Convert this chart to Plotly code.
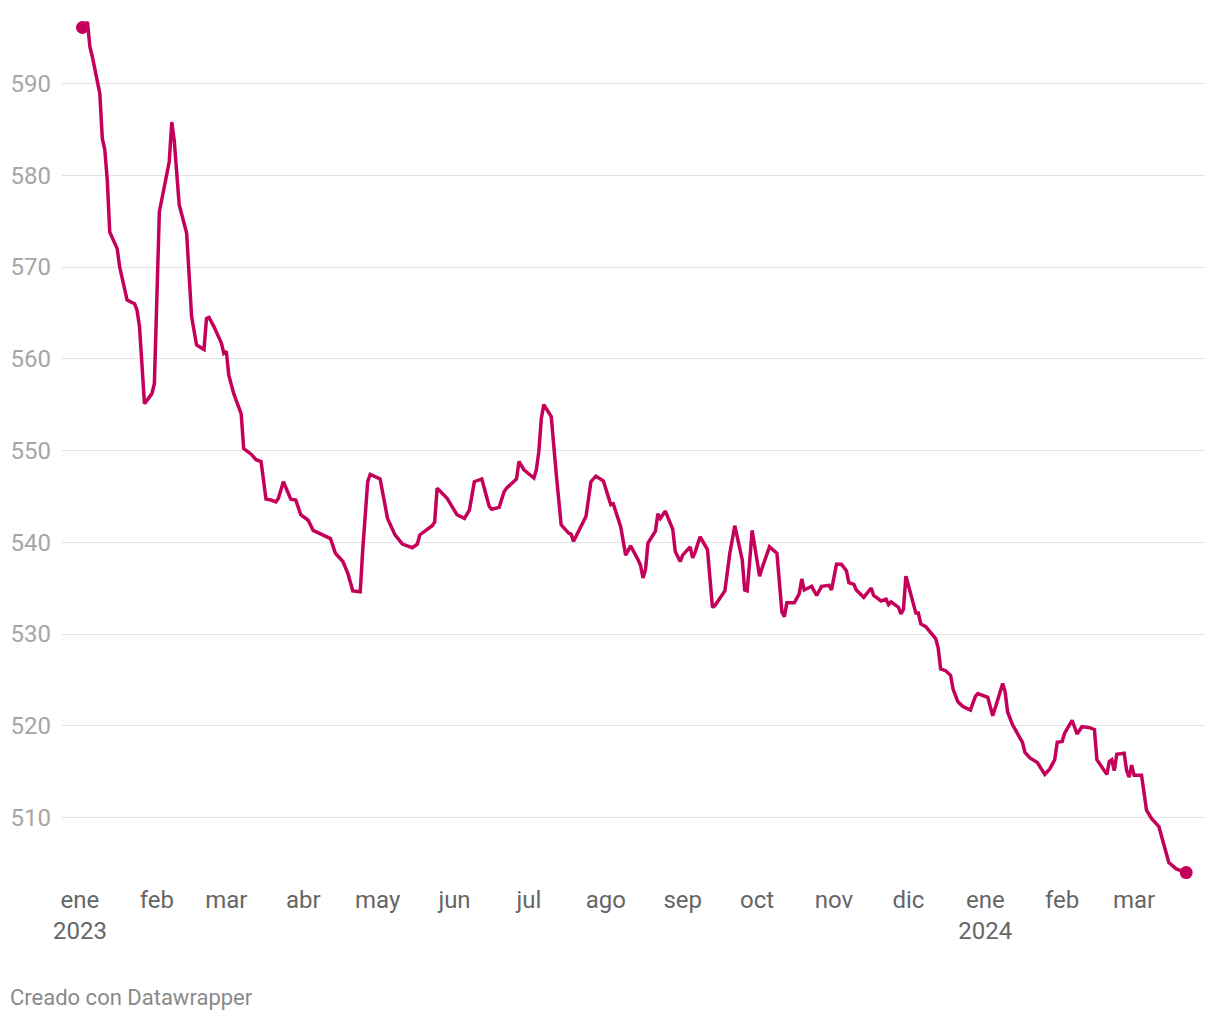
import plotly.graph_objects as go

dates = [
    "2023-01-02", "2023-01-03", "2023-01-04", "2023-01-05", "2023-01-06", "2023-01-09", "2023-01-10",
    "2023-01-11", "2023-01-12", "2023-01-13", "2023-01-16", "2023-01-17", "2023-01-20", "2023-01-23",
    "2023-01-24", "2023-01-25", "2023-01-27", "2023-01-30", "2023-01-31",
    "2023-02-01", "2023-02-02", "2023-02-06", "2023-02-07", "2023-02-08", "2023-02-10", "2023-02-13",
    "2023-02-15", "2023-02-17", "2023-02-20", "2023-02-21", "2023-02-22", "2023-02-24", "2023-02-27",
    "2023-02-28",
    "2023-03-01", "2023-03-02", "2023-03-04", "2023-03-07", "2023-03-08", "2023-03-11", "2023-03-13",
    "2023-03-15", "2023-03-17", "2023-03-19", "2023-03-21", "2023-03-22", "2023-03-24", "2023-03-27",
    "2023-03-29", "2023-03-31",
    "2023-04-03", "2023-04-05", "2023-04-09", "2023-04-12", "2023-04-14", "2023-04-17", "2023-04-19",
    "2023-04-21", "2023-04-24", "2023-04-25", "2023-04-27", "2023-04-28",
    "2023-05-02", "2023-05-04", "2023-05-05", "2023-05-08", "2023-05-11", "2023-05-15", "2023-05-17",
    "2023-05-18", "2023-05-21", "2023-05-23", "2023-05-24", "2023-05-25", "2023-05-29",
    "2023-06-02", "2023-06-05", "2023-06-07", "2023-06-09", "2023-06-12", "2023-06-15", "2023-06-16",
    "2023-06-19", "2023-06-21", "2023-06-22", "2023-06-26", "2023-06-27", "2023-06-29",
    "2023-07-03", "2023-07-04", "2023-07-05", "2023-07-06", "2023-07-07", "2023-07-10", "2023-07-12",
    "2023-07-14", "2023-07-17", "2023-07-18", "2023-07-19", "2023-07-21", "2023-07-24", "2023-07-26",
    "2023-07-28", "2023-07-31",
    "2023-08-03", "2023-08-04", "2023-08-07", "2023-08-09", "2023-08-11", "2023-08-14", "2023-08-15",
    "2023-08-16", "2023-08-17", "2023-08-18", "2023-08-21", "2023-08-22", "2023-08-23", "2023-08-25",
    "2023-08-28", "2023-08-29", "2023-08-31",
    "2023-09-01", "2023-09-04", "2023-09-05", "2023-09-06", "2023-09-08", "2023-09-11", "2023-09-13",
    "2023-09-14", "2023-09-18", "2023-09-20", "2023-09-22", "2023-09-25", "2023-09-26", "2023-09-27",
    "2023-09-28", "2023-09-29",
    "2023-10-02", "2023-10-03", "2023-10-06", "2023-10-09", "2023-10-11", "2023-10-12", "2023-10-13",
    "2023-10-16", "2023-10-18", "2023-10-19", "2023-10-20", "2023-10-23", "2023-10-25", "2023-10-27",
    "2023-10-30", "2023-10-31",
    "2023-11-02", "2023-11-04", "2023-11-06", "2023-11-07", "2023-11-09", "2023-11-10", "2023-11-13",
    "2023-11-16", "2023-11-17", "2023-11-20", "2023-11-22", "2023-11-23", "2023-11-24", "2023-11-27",
    "2023-11-28", "2023-11-29", "2023-11-30",
    "2023-12-04", "2023-12-05", "2023-12-06", "2023-12-08", "2023-12-10", "2023-12-12", "2023-12-13",
    "2023-12-14", "2023-12-16", "2023-12-18", "2023-12-19", "2023-12-21", "2023-12-23", "2023-12-26",
    "2023-12-28", "2023-12-29",
    "2024-01-02", "2024-01-04", "2024-01-06", "2024-01-08", "2024-01-09", "2024-01-10", "2024-01-12",
    "2024-01-15", "2024-01-16", "2024-01-17", "2024-01-19", "2024-01-22", "2024-01-23", "2024-01-25",
    "2024-01-27", "2024-01-29", "2024-01-30",
    "2024-02-01", "2024-02-02", "2024-02-05", "2024-02-07", "2024-02-09", "2024-02-12", "2024-02-14",
    "2024-02-15", "2024-02-19", "2024-02-20", "2024-02-21", "2024-02-22", "2024-02-23", "2024-02-26",
    "2024-02-27", "2024-02-28", "2024-02-29",
    "2024-03-01", "2024-03-04", "2024-03-06", "2024-03-08", "2024-03-11", "2024-03-15", "2024-03-18",
    "2024-03-22",
]

values = [
    596.1, 596.3, 596.7, 594.0, 592.9, 588.9, 584.0,
    582.8, 579.5, 573.8, 572.0, 570.0, 566.4, 566.0,
    565.3, 563.5, 555.1, 556.2, 557.3,
    565.3, 576.0, 581.5, 585.8, 583.8, 576.8, 573.7,
    564.6, 561.5, 561.0, 564.4, 564.5, 563.5, 561.7,
    560.6,
    560.8, 558.2, 556.2, 554.0, 550.2, 549.6, 549.0,
    548.8, 544.7, 544.6, 544.4, 544.8, 546.6, 544.7,
    544.6, 543.0,
    542.4, 541.3, 540.8, 540.4, 538.8, 537.9, 536.6,
    534.7, 534.6, 539.2, 546.6, 547.4,
    546.9, 543.9, 542.6, 540.8, 539.8, 539.4, 539.8,
    540.8, 541.4, 541.8, 542.2, 545.9, 544.8,
    543.0, 542.6, 543.5, 546.6, 546.9, 543.9, 543.6,
    543.8, 545.5, 545.9, 546.9, 548.8, 547.9,
    547.0, 547.9, 549.9, 553.5, 555.0, 553.7, 547.5,
    541.9, 541.0, 540.9, 540.1, 541.2, 542.8, 546.6,
    547.2, 546.7,
    544.1, 544.2, 541.7, 538.6, 539.6, 538.1, 537.5,
    536.1, 537.0, 539.9, 541.2, 543.1, 542.6, 543.4,
    541.4, 539.0, 537.9,
    538.6, 539.5, 538.3, 538.9, 540.6, 539.2, 532.9,
    533.1, 534.7, 538.8, 541.8, 538.1, 534.8, 534.7,
    537.9, 541.3,
    536.3, 537.2, 539.5, 538.8, 532.4, 531.9, 533.4,
    533.4, 534.4, 536.0, 534.8, 535.2, 534.2, 535.2,
    535.3, 534.8,
    537.6, 537.6, 536.9, 535.6, 535.4, 534.8, 534.0,
    535.0, 534.2, 533.6, 533.8, 533.2, 533.5, 532.9,
    532.2, 532.7, 536.3,
    532.3, 532.3, 531.1, 530.8, 530.2, 529.5, 528.5,
    526.2, 526.0, 525.5, 524.0, 522.6, 522.1, 521.7,
    523.2, 523.5,
    523.1, 521.1, 522.8, 524.6, 523.7, 521.5, 520.1,
    518.6, 518.2, 517.1, 516.5, 516.0, 515.6, 514.7,
    515.3, 516.3, 518.2,
    518.3, 519.2, 520.6, 519.1, 519.9, 519.8, 519.6,
    516.3, 514.7, 516.1, 516.3, 515.1, 516.9, 517.0,
    515.1, 514.4, 515.7,
    514.6, 514.6, 510.8, 509.9, 509.0, 505.1, 504.4,
    504.0,
]

tick_dates = ["2023-01-01", "2023-02-01", "2023-03-01", "2023-04-01", "2023-05-01", "2023-06-01",
              "2023-07-01", "2023-08-01", "2023-09-01", "2023-10-01", "2023-11-01", "2023-12-01",
              "2024-01-01", "2024-02-01", "2024-03-01"]
tick_labels = ["ene<br>2023", "feb", "mar", "abr", "may", "jun", "jul", "ago", "sep", "oct", "nov",
               "dic", "ene<br>2024", "feb", "mar"]
y_ticks = [510, 520, 530, 540, 550, 560, 570, 580, 590]

LINE = "#c4005a"

fig = go.Figure()
fig.add_trace(go.Scatter(x=dates, y=values, mode="lines",
                         line=dict(color=LINE, width=3.5), hoverinfo="x+y"))
fig.add_trace(go.Scatter(x=[dates[0], dates[-1]], y=[values[0], values[-1]], mode="markers",
                         marker=dict(color=LINE, size=13), hoverinfo="skip"))

# the page body adds an 8px offset; figure sized so the plot lands where the reference has it
fig.update_layout(
    width=1212, height=1012,
    margin=dict(l=54, r=15, t=2, b=140),
    paper_bgcolor="white", plot_bgcolor="white",
    showlegend=False,
    font=dict(family="Roboto", size=24, color="#666666"),
    xaxis=dict(
        range=["2022-12-24 18:00", "2024-03-29 14:00"],
        tickmode="array", tickvals=tick_dates, ticktext=tick_labels,
        showgrid=False, zeroline=False, showline=False, ticks="",
        tickfont=dict(family="Roboto", size=24, color="#666666"),
        ticklabelstandoff=3,
    ),
    yaxis=dict(
        range=[503.19, 598.01],
        tickmode="array", tickvals=y_ticks,
        showgrid=True, gridcolor="#e3e3e3", gridwidth=1,
        zeroline=False, showline=False, ticks="",
        tickfont=dict(family="Roboto", size=24, color="#a6a6a6"),
        ticklabelstandoff=10,
    ),
    annotations=[dict(
        text="Creado con Datawrapper", xref="paper", yref="paper",
        x=-54 / 1143, y=-(997 - 880) / 870, xanchor="left", yanchor="middle",
        showarrow=False, font=dict(family="Roboto", size=22, color="#8a8a8a"),
    )],
)

fig.write_html("out.html")
